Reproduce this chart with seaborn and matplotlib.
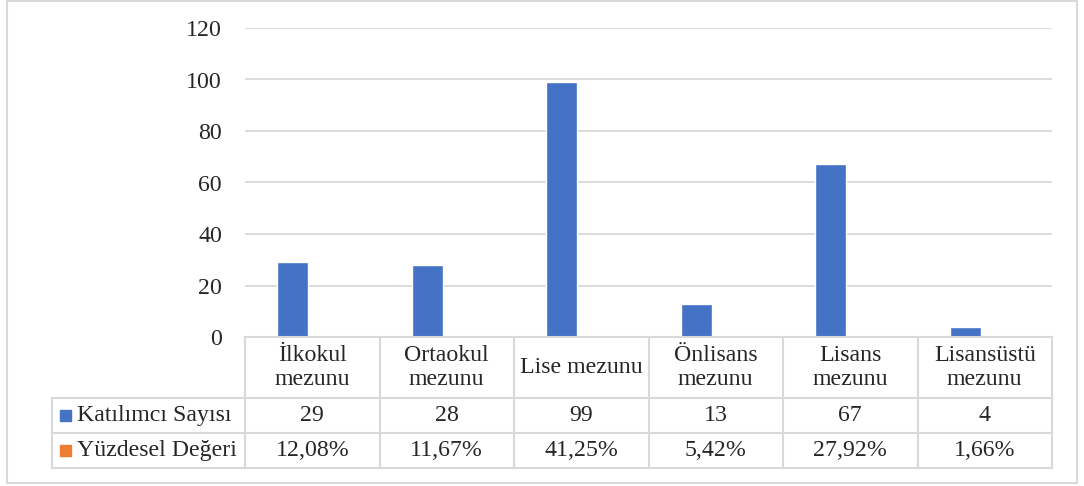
import matplotlib
matplotlib.use("Agg")
import numpy as np
import pandas as pd
import matplotlib.pyplot as plt
import seaborn as sns
from matplotlib.lines import Line2D
from matplotlib.patches import Rectangle
from matplotlib.transforms import blended_transform_factory

# --- data ---
categories = ["İlkokul\nmezunu", "Ortaokul\nmezunu", "Lise mezunu",
              "Önlisans\nmezunu", "Lisans\nmezunu", "Lisansüstü\nmezunu"]
katilimci = [29, 28, 99, 13, 67, 4]
yuzde = [0.1208, 0.1167, 0.4125, 0.0542, 0.2792, 0.0166]
series_names = ["Katılımcı Sayısı", "Yüzdesel Değeri"]
colors = ["#4472C4", "#ED7D31"]
yticks = [0, 20, 40, 60, 80, 100, 120]

df = pd.DataFrame({
    "cat": categories * 2,
    "value": katilimci + yuzde,
    "series": [series_names[0]] * 6 + [series_names[1]] * 6,
})

# --- style ---
sns.set_style("white")
plt.rcParams["font.family"] = ["Liberation Serif", "DejaVu Serif"]
GRID = "#d9d9d9"
FS = 17.2

W, H = 1084, 486
fig = plt.figure(figsize=(W / 100, H / 100), dpi=100)
ax_h = 337 - 28
ax = fig.add_axes([245 / W, 1 - 337 / H, (1052 - 245) / W, ax_h / H])

sns.barplot(data=df, x="cat", y="value", hue="series", order=categories,
            palette=colors, width=0.58, gap=0.2, saturation=1,
            errorbar=None, legend=False, ax=ax)

ax.set_xlim(-0.5, len(categories) - 0.5)
ax.set_ylim(0, 120)
ax.set_yticks(yticks)
ax.set_xticks([])
ax.set_xlabel("")
ax.set_ylabel("")
ax.yaxis.grid(True, color=GRID, lw=1.3)
ax.set_axisbelow(True)
for s in ax.spines.values():
    s.set_visible(False)
ax.tick_params(axis="y", length=0, pad=16.5, labelsize=FS)

# --- data table under the axis ---
tr = ax.get_xaxis_transform()                       # x data, y axes
hx = blended_transform_factory(fig.transFigure, ax.transAxes)
row_y = [0, -(398 - 337) / ax_h, -(433 - 337) / ax_h, -(468 - 337) / ax_h]
left = 52 / W
right = 1052 / W

lkw = dict(color=GRID, lw=1.5, clip_on=False)
ax.add_line(Line2D([-0.5, 5.5], [0, 0], transform=tr, **lkw))
for y in row_y[1:]:
    ax.add_line(Line2D([left, right], [y, y], transform=hx, **lkw))
for i in range(len(categories) + 1):
    ax.add_line(Line2D([i - 0.5, i - 0.5], [0, row_y[-1]], transform=tr, **lkw))
ax.add_line(Line2D([left, left], [row_y[1], row_y[-1]], transform=hx, **lkw))

for i, c in enumerate(categories):
    ax.text(i, (row_y[0] + row_y[1]) / 2, c, transform=tr, ha="center",
            va="center", fontsize=FS, linespacing=1.15)
    ax.text(i, (row_y[1] + row_y[2]) / 2, str(katilimci[i]), transform=tr,
            ha="center", va="center", fontsize=FS)
    ax.text(i, (row_y[2] + row_y[3]) / 2,
            f"{yuzde[i] * 100:.2f}%".replace(".", ","), transform=tr,
            ha="center", va="center", fontsize=FS)

sq = 11
for r, (name, col) in enumerate(zip(series_names, colors)):
    yc = (row_y[r + 1] + row_y[r + 2]) / 2
    ax.add_patch(Rectangle((60 / W, yc - sq / 2 / ax_h), sq / W, sq / ax_h,
                           transform=hx, color=col, clip_on=False))
    ax.text(77 / W, yc, name, transform=hx, ha="left", va="center", fontsize=FS)

# outer chart frame
fig.add_artist(Rectangle((7 / W, 1 - 483 / H), (1077 - 7) / W, (483 - 1) / H,
                         transform=fig.transFigure, fill=False,
                         edgecolor=GRID, lw=1.5))

fig.savefig("out.png", dpi=100)
